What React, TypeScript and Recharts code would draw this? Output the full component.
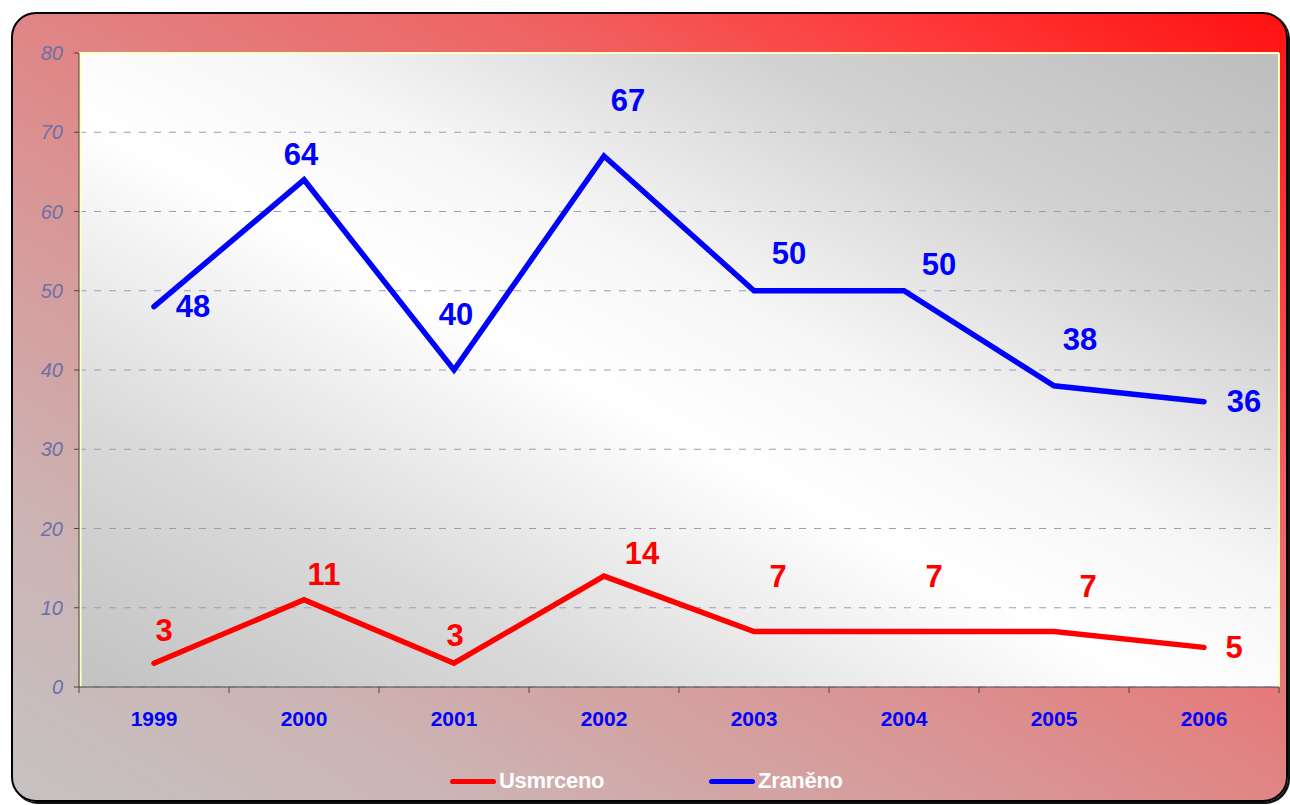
import {
  LineChart,
  Line,
  XAxis,
  YAxis,
  CartesianGrid,
  LabelList,
} from "recharts";

// Data
const years = ["1999", "2000", "2001", "2002", "2003", "2004", "2005", "2006"];
const usmrceno = [3, 11, 3, 14, 7, 7, 7, 5];
const zraneno = [48, 64, 40, 67, 50, 50, 38, 36];
const yTicks = [0, 10, 20, 30, 40, 50, 60, 70, 80];

// where each value label sits relative to its point (Excel placed them by hand)
const usmrcenoLabelShift = [
  [10, -33], [20, -25], [1, -28], [38, -23], [24, -55], [30, -55], [34, -45], [30, 0],
];
const zranenoLabelShift = [
  [39, 0], [-3, -25], [2, -56], [24, -56], [35, -37], [35, -26], [26, -46], [40, 0],
];

const RED = "#ff0000";
const BLUE = "#0000ff";
const FONT = "'Liberation Sans', Arial, sans-serif";

const chartData = years.map((year, i) => ({
  year,
  usmrceno: usmrceno[i],
  zraneno: zraneno[i],
}));

const legendItems = [
  { name: "Usmrceno", color: RED, left: 450 },
  { name: "Zraněno", color: BLUE, left: 709 },
];

const makeValueLabel = (color: string, shifts: number[][]) => (props: any) => {
  const { x, y, value, index } = props;
  const [dx, dy] = shifts[index] || [0, -25];
  return (
    <text
      x={x + dx}
      y={y + dy}
      fill={color}
      fontSize={31}
      fontWeight="bold"
      fontFamily={FONT}
      textAnchor="middle"
      dominantBaseline="central"
    >
      {value}
    </text>
  );
};

// year label in the middle of the band, tick marks on band edges
const YearTick = (props: any) => {
  const { x, y, payload, index, visibleTicksCount, width } = props;
  const count = visibleTicksCount || years.length;
  const half = (width || 1200) / count / 2;
  return (
    <g>
      <line x1={x - half} x2={x - half} y1={y} y2={y + 6} stroke="#4a4a3a" />
      {index === count - 1 && (
        <line x1={x + half} x2={x + half} y1={y} y2={y + 6} stroke="#4a4a3a" />
      )}
      <text
        x={x}
        y={y + 39}
        fill={BLUE}
        fontSize={21}
        fontWeight="bold"
        fontFamily={FONT}
        textAnchor="middle"
      >
        {payload.value}
      </text>
    </g>
  );
};

const App = () => {
  return (
    <div style={{ position: "absolute", left: 0, top: 0, width: 1290, height: 805 }}>
      {/* outer frame */}
      <div
        style={{
          position: "absolute",
          left: 11,
          top: 12,
          width: 1277,
          height: 790,
          boxSizing: "border-box",
          border: "2px solid #000",
          borderRadius: 25,
          boxShadow: "2px 2px 0 #111",
          background:
            "linear-gradient(to bottom left, #ff1010 0%, #ff3838 15%, #f06262 30%, #e08585 50%, #d89898 62%, #ccb4b4 82%, #c6c2c2 100%)",
        }}
      />

      <div style={{ position: "absolute", left: 0, top: 0 }}>
        <LineChart
          width={1290}
          height={805}
          data={chartData}
          margin={{ top: 53, right: 11, bottom: 88, left: 0 }}
          style={{ fontFamily: FONT }}
        >
          <defs>
            <linearGradient id="plotBg" x1="1" y1="0" x2="0" y2="1">
              <stop offset="0%" stopColor="#bdbdbd" />
              <stop offset="22%" stopColor="#d2d2d2" />
              <stop offset="42%" stopColor="#f6f6f6" />
              <stop offset="55%" stopColor="#ffffff" />
              <stop offset="78%" stopColor="#dadada" />
              <stop offset="100%" stopColor="#c2c2c2" />
            </linearGradient>
          </defs>
          <CartesianGrid
            vertical={false}
            stroke="#9a9ac4"
            strokeDasharray="7 8"
            fill="url(#plotBg)"
            fillOpacity={1}
          />
          {/* pale plot border */}
          <CartesianGrid
            stroke="#ffffc4"
            strokeWidth={2}
            horizontalCoordinatesGenerator={({ offset }: any) => [offset.top]}
            verticalCoordinatesGenerator={({ offset }: any) => [
              offset.left + 1.5,
              offset.left + offset.width,
            ]}
          />
          <XAxis
            dataKey="year"
            scale="band"
            height={30}
            tickLine={false}
            tickSize={0}
            tickMargin={0}
            axisLine={{ stroke: "#4a4a3a" }}
            tick={<YearTick />}
            interval={0}
          />
          <YAxis
            width={79}
            domain={[0, 80]}
            ticks={yTicks}
            interval={0}
            tickSize={5}
            tickMargin={11}
            axisLine={{ stroke: "#4a4a3a" }}
            tickLine={{ stroke: "#4a4a3a" }}
            tick={{ fill: "#6b70a8", fontSize: 20, fontStyle: "italic", fontFamily: FONT }}
          />
          <Line
            type="linear"
            dataKey="zraneno"
            name="Zraněno"
            stroke={BLUE}
            strokeWidth={5.5}
            strokeLinecap="round"
            dot={false}
            activeDot={false}
            isAnimationActive={false}
          >
            <LabelList dataKey="zraneno" content={makeValueLabel(BLUE, zranenoLabelShift)} />
          </Line>
          <Line
            type="linear"
            dataKey="usmrceno"
            name="Usmrceno"
            stroke={RED}
            strokeWidth={5.5}
            strokeLinecap="round"
            dot={false}
            activeDot={false}
            isAnimationActive={false}
          >
            <LabelList dataKey="usmrceno" content={makeValueLabel(RED, usmrcenoLabelShift)} />
          </Line>
        </LineChart>
      </div>

      {/* legend */}
      {legendItems.map((item) => (
        <div
          key={item.name}
          style={{
            position: "absolute",
            left: item.left,
            top: 768,
            display: "flex",
            alignItems: "center",
            fontFamily: FONT,
            fontWeight: "bold",
            fontSize: 22,
            color: "#fff",
            letterSpacing: -0.3,
          }}
        >
          <span
            style={{
              display: "inline-block",
              width: 46,
              height: 5,
              borderRadius: 3,
              background: item.color,
              marginRight: 3,
            }}
          />
          {item.name}
        </div>
      ))}
    </div>
  );
};

export default App;
